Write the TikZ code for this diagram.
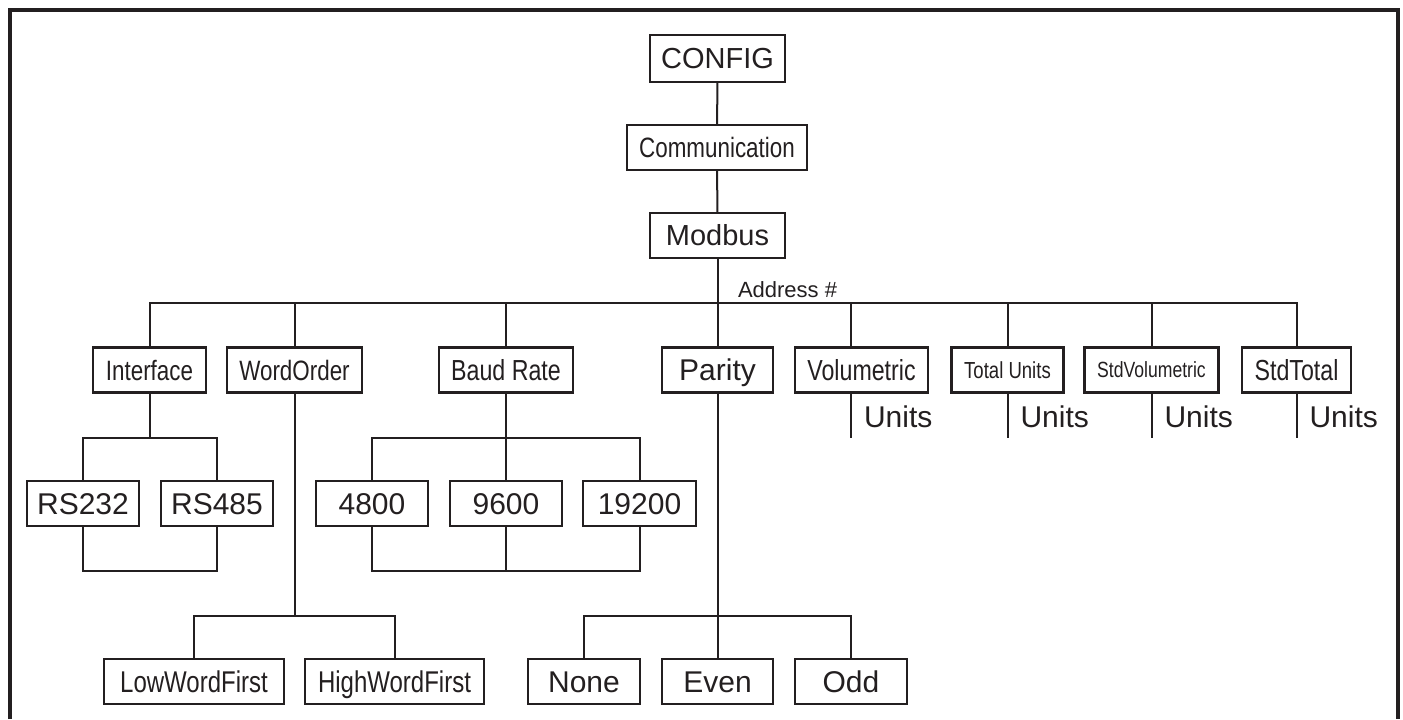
\documentclass[tikz,border=0pt]{standalone}
\usepackage{fontspec}
\setmainfont{Liberation Sans}
\newfontfamily\narrowsf[FakeStretch=0.8]{Liberation Sans}
\usetikzlibrary{positioning}

\definecolor{ink}{RGB}{35,31,32}

\begin{document}
\begin{tikzpicture}[x=0.5pt, y=-0.5pt, line width=1pt, draw=ink, text=ink,
    box/.style={draw=ink, line width=1.2pt, inner sep=0pt, minimum height=22.5pt, minimum width=#1*0.5pt},
    wide/.style={font=\fontsize{#1}{#1}\selectfont, text height=#1*0.72pt, text depth=0pt},
    narrow/.style={font=\narrowsf\fontsize{#1}{#1}\selectfont, text height=#1*0.72pt, text depth=0pt}]

%\draw[step=50, color=gray!20] (0,0) grid (1403,719);
\useasboundingbox (0,0) rectangle (1403,719);

% frame
\draw[line width=2pt] (9.5,719) -- (9.5,9.5) -- (1397.5,9.5) -- (1397.5,719);

% top of the menu
\node[box=135, minimum height=23.5pt, wide=14.5] (config) at (717.5,58.5) {CONFIG};
\node[box=180, narrow=14] (comm) at (717,147.5) {Communication};
\node[box=135, wide=14.5] (modbus) at (717.5,235.5) {Modbus};

\draw (config) -- (comm);
\draw (comm) -- (modbus);

% second row
\node[box=113, narrow=14] (iface) at (149.5,370) {Interface};
\node[box=135, narrow=14] (word) at (294.5,370) {WordOrder};
\node[box=134, narrow=14.5] (baud) at (506,370) {Baud Rate};
\node[box=111, wide=15] (parity) at (717.5,370) {Parity};
\node[box=133, narrow=14.5] (volu) at (861.5,370) {Volumetric};
\node[box=112, narrow=11.6] (totu) at (1007.5,370) {Total Units};
\node[box=134, narrow=11] (stdvol) at (1151.5,370) {StdVolumetric};
\node[box=109, narrow=14.5] (stdtot) at (1296.5,370) {StdTotal};

\coordinate (bus) at (717.5,303);
\node[anchor=base west, inner sep=0pt, wide=11] (addr) at (737,297) {Address \#};

\draw (modbus) -- (parity);
\draw (iface.north) |- (bus) -| (stdtot.north);
\draw (word.north) -- (word.north |- bus);
\draw (baud.north) -- (baud.north |- bus);

\foreach \n/\d in {volu/-10.5, totu/0, stdvol/0, stdtot/0}
{
\draw ([xshift=\d*0.5pt]\n.north) -- ([xshift=\d*0.5pt]\n.north |- bus);
\draw ([xshift=\d*0.5pt]\n.south) -- ++(0,44) coordinate (\n end);
\path (\n end) ++(10,-21) node[anchor=west, inner sep=1pt, wide=15] (\n units) {Units};
};

% interface
\node[box=112, wide=15] (rs232) at (83,503.5) {RS232};
\node[box=112, wide=15] (rs485) at (217,503.5) {RS485};

\draw (iface.south) -- ++(0,44) coordinate (ifj);
\draw (rs232.north) |- (ifj) -| (rs485.north);
\draw (rs232.south) -- ++(0,44) -| (rs485.south);

% baud rate
\node[box=112, wide=15] (b4800) at (372,503.5) {4800};
\node[box=112, wide=15] (b9600) at (506,503.5) {9600};
\node[box=113, wide=15] (b19200) at (639.5,503.5) {19200};

\draw (baud.south) -- ++(0,44) coordinate (bdj);
\draw (b4800.north) |- (bdj) -| (b19200.north);
\draw (bdj) -- (b9600.north);
\draw (b4800.south) -- ++(0,44) -| (b19200.south);
\draw (b9600.south) -- ++(0,44);

% word order
\node[box=180, narrow=15] (lowf) at (194,681.5) {LowWordFirst};
\node[box=179, narrow=15] (highf) at (394.5,681.5) {HighWordFirst};

\draw (word.south) -- ++(0,222) coordinate (wdj);
\draw (lowf.north) |- (wdj) -| (highf.north);

% parity
\node[box=112, wide=15] (none) at (584,681.5) {None};
\node[box=111, wide=15] (even) at (717.5,681.5) {Even};
\node[box=112, wide=15] (odd) at (851,681.5) {Odd};

\draw (parity.south) -- ++(0,222) coordinate (pj);
\draw (none.north) |- (pj) -| (odd.north);
\draw (pj) -- (even.north);

\end{tikzpicture}
\end{document}
